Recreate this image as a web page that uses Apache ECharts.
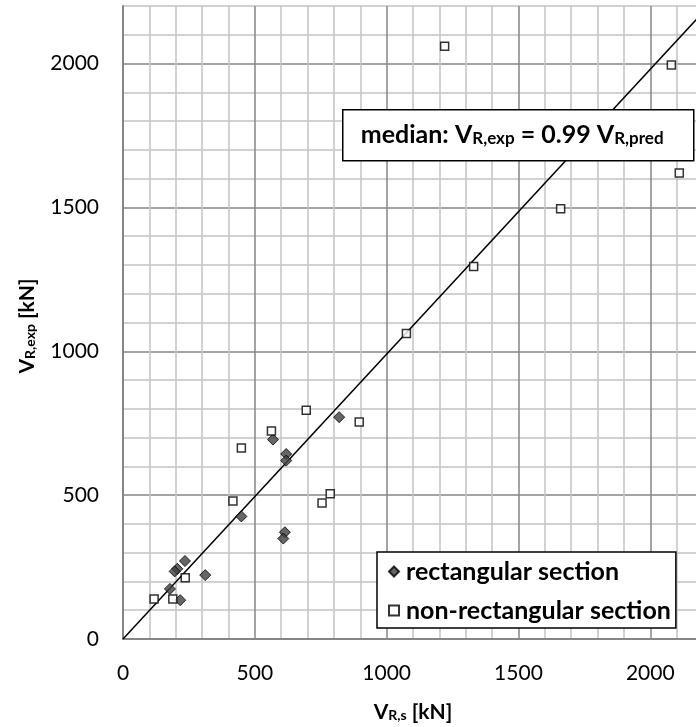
<!DOCTYPE html>
<html>
<head>
<meta charset="utf-8" />
<title>V_R,exp vs V_R,s</title>
<script src="https://cdn.jsdelivr.net/npm/echarts@6.0.0/dist/echarts.min.js"></script>
<style>
    html, body { margin: 0; padding: 0; background: #fff; }
    #main { width: 696px; height: 727px; }
</style>
</head>
<body>
<div id="main"></div>
<script>
    // rectangular section [V_R,s, V_R,exp] in kN
    var rectangular = [
        [820, 771], [569, 693], [619, 643], [619, 620], [449, 426],
        [614, 371], [608, 349], [235, 271], [206, 244], [196, 235],
        [312, 222], [178, 174], [217, 135]
    ];
    // non-rectangular section
    var nonRectangular = [
        [1220, 2060], [2080, 1995], [2110, 1620], [1660, 1495], [1330, 1295],
        [1075, 1062], [695, 795], [563, 723], [449, 664], [896, 754],
        [417, 480], [786, 505], [755, 473], [236, 213], [118, 139], [189, 139]
    ];
    // median line V_R,exp = 0.99 V_R,pred
    var medianLine = [[0, 0], [2200, 2178]];

    var axisMin = 0, axisMax = 2200, minorStep = 100, labelStep = 500;

    var font = 'Lato';
    var gridColors = ['#868686', '#c3c3c3', '#c3c3c3', '#c3c3c3', '#c3c3c3'];

    function tickLabel(v) {
        return v % labelStep === 0 ? String(v) : '';
    }

    // rich styles for text with subscripts (axis titles, annotation)
    function subRich(big, small, drop) {
        return {
            m: { fontFamily: font, fontWeight: 'bold', fontSize: big, fill: '#000', lineHeight: big, verticalAlign: 'top' },
            s: { fontFamily: font, fontWeight: 'bold', fontSize: small, fill: '#000', lineHeight: small, padding: [drop, 0, 0, 0], verticalAlign: 'bottom' }
        };
    }

    function makeAxis() {
        return {
            type: 'value',
            min: axisMin,
            max: axisMax,
            interval: minorStep,
            axisLine: { show: true, lineStyle: { color: '#868686', width: 2 } },
            axisTick: { show: false },
            axisLabel: {
                formatter: tickLabel,
                fontFamily: font,
                fontSize: 21,
                color: '#000',
                margin: 24
            },
            splitLine: { show: true, lineStyle: { color: gridColors, width: 1.5 } }
        };
    }

    var myChart = echarts.init(document.getElementById('main'));

    var option = {
        animation: false,
        backgroundColor: '#fff',
        grid: {
            left: 123,
            top: 6,
            width: 580,
            height: 633,
            containLabel: false,
            outerBoundsMode: 'none'
        },
        xAxis: makeAxis(),
        yAxis: makeAxis(),
        legend: {
            orient: 'vertical',
            left: 377,
            top: 552,
            backgroundColor: '#fff',
            borderColor: '#000',
            borderWidth: 1.5,
            borderRadius: 0,
            padding: [7, 5, 5, 11],
            itemGap: 14,
            itemWidth: 10,
            itemHeight: 10,
            textStyle: { fontFamily: font, fontWeight: 'bold', fontSize: 25, color: '#000', padding: [0, 0, 0, 2] },
            data: ['rectangular section', 'non-rectangular section']
        },
        series: [{
            name: 'median',
            type: 'line',
            data: medianLine,
            showSymbol: false,
            silent: true,
            lineStyle: { color: '#000', width: 1.5 },
            z: 1
        }, {
            name: 'rectangular section',
            type: 'scatter',
            symbol: 'diamond',
            symbolSize: 11,
            data: rectangular,
            itemStyle: { color: '#404040', borderColor: '#000', borderWidth: 1 },
            z: 3
        }, {
            name: 'non-rectangular section',
            type: 'scatter',
            symbol: 'rect',
            symbolSize: 8,
            data: nonRectangular,
            itemStyle: { color: '#fff', borderColor: '#000', borderWidth: 1.5 },
            z: 3
        }],
        graphic: [{
            type: 'group',
            left: 342,
            top: 109,
            z: 100,
            children: [{
                type: 'rect',
                z: 100,
                shape: { x: 0, y: 0, width: 351, height: 51 },
                style: { fill: '#fff', stroke: '#000', lineWidth: 1.5 }
            }, {
                type: 'text',
                z: 101,
                x: 18,
                y: 25,
                style: {
                    text: '{m|median: V}{s|R,exp}{m| = 0.99 V}{s|R,pred}',
                    verticalAlign: 'middle',
                    rich: subRich(25, 17, 11)
                }
            }]
        }, {
            // x axis title
            type: 'text',
            x: 413,
            y: 712,
            z: 100,
            style: {
                text: '{m|V}{s|R,s}{m| [kN]}',
                align: 'center',
                verticalAlign: 'middle',
                rich: subRich(21, 14, 10)
            }
        }, {
            // y axis title
            type: 'text',
            x: 27,
            y: 326,
            z: 100,
            rotation: Math.PI / 2,
            style: {
                text: '{m|V}{s|R,exp}{m| [kN]}',
                align: 'center',
                verticalAlign: 'middle',
                rich: subRich(21, 14, 10)
            }
        }]
    };

    myChart.setOption(option);
</script>
</body>
</html>
